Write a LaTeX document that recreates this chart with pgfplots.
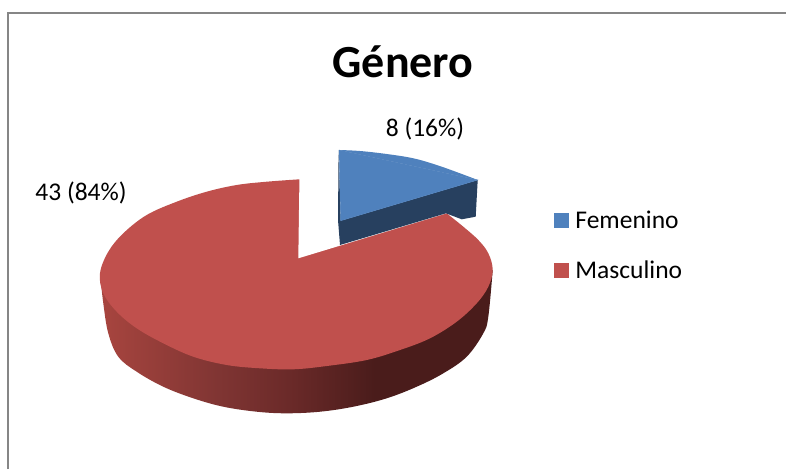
\documentclass[border=0pt]{standalone}
\usepackage{fontspec}
\setmainfont{Carlito}
\usepackage{pgfplots}
\pgfplotsset{compat=1.18}
\definecolor{pieblue}{HTML}{4F81BD}
\definecolor{pieblued}{HTML}{27405F}
\definecolor{piered}{HTML}{C0504D}
\definecolor{framegray}{HTML}{868686}
\definecolor{redA}{HTML}{A8453F}
\definecolor{redB}{HTML}{803533}
\definecolor{redC}{HTML}{6B2A29}
\definecolor{redD}{HTML}{4A1C1B}
\pgfdeclarehorizontalshading{redwall}{100bp}{
  color(0bp)=(redA); color(25bp)=(redA); color(40bp)=(redB); color(49bp)=(redC); color(60bp)=(redD); color(100bp)=(redD)}
\begin{document}
\begin{tikzpicture}
\begin{axis}[
  scale only axis, width=786pt, height=469pt,
  xmin=0, xmax=786, ymin=0, ymax=469, y dir=reverse,
  hide axis, clip=true,
  legend cell align=left,
  legend style={at={(axis cs:554,209)}, anchor=north west, draw=none, fill=none,
    font=\fontsize{25.5}{27}\selectfont, row sep=27pt, inner sep=0pt, outer sep=0pt,
    /tikz/every odd column/.append style={column sep=5pt}},
  legend image code/.code={\fill[#1] (0pt,-7pt) rectangle (14pt,7pt);},
]
% page extent
\addplot[draw=none, fill=white, forget plot] coordinates {(0,0)(786,0)(786,469)(0,469)} --cycle;
% frame
\addplot[draw=framegray, line width=2pt, forget plot] coordinates {(8,469)(8,12.5)(786,12.5)};
% red wall
\addplot[shading=redwall, draw=none, smooth, tension=0.6, forget plot] coordinates {(100,273.3)(103.3,303.3)(108.3,333.3)(118.3,356.7)(136.7,371.7)(163.3,386.7)(193.3,398.3)(223.3,406.7)(256.7,411.7)(286.7,413.3)(320,411.7)(353.3,406.7)(386.7,398.3)(416.7,386.7)(443.3,373.3)(466.7,356.7)(483.3,333.3)(488.3,316.7)(492.7,270)};
% red slice top (value 43): rim, then the gap is cut out
\addplot[fill=piered, draw=none, smooth, tension=0.6, forget plot] coordinates {(299.5,179.3)(266.7,181.7)(236.7,185)(206.7,191.7)(176.7,201.7)(146.7,215)(123.3,233.3)(108.3,251.7)(100,273.3)(103.3,293.3)(116.7,311.7)(136.7,328.3)(163.3,343.3)(193.3,356.7)(226.7,365)(260,368.3)(293.3,369.3)(326.7,366)(366.7,360)(400,350)(430,338.3)(456.7,321.7)(476.7,303.3)(488.3,286.7)(492.7,270)(488.3,253.3)(478.3,240)(463.3,226.7)(446.7,213.3)};
\addplot[fill=white, draw=none, forget plot] coordinates {(299.5,175)(298.3,258.3)(446.7,213.3)(450,170)} --cycle;
% blue slice side
\addplot[fill=pieblued, draw=none, forget plot] coordinates {(338.6,150)(340.7,220.7)(477.7,180)(475.7,216.7)(461.7,219.3)(446,213.3)(340,245)(338,220)} --cycle;
% blue slice top (value 8)
\addplot[fill=pieblue, draw=pieblue, line width=0.4pt, forget plot] coordinates {(339,150)(477.7,180)(340.7,220.7)} --cycle;
\addplot[fill=pieblue, draw=none, smooth, tension=0.6, forget plot] coordinates {(339,150)(360,151)(386.7,154)(413.3,158.3)(436.7,165)(460,173.3)(477.7,180)};
\addlegendimage{pieblue}
\addlegendentry{Femenino}
\addlegendimage{piered}
\addlegendentry{Masculino}
\node[font=\bfseries\fontsize{46}{48}\selectfont, inner sep=0pt] at (axis cs:403,62) {Género};
\node[font=\fontsize{25.5}{27}\selectfont, inner sep=0pt] at (axis cs:425,129) {8 (16\%)};
\node[font=\fontsize{25.5}{27}\selectfont, inner sep=0pt] at (axis cs:81,193) {43 (84\%)};
\end{axis}
\end{tikzpicture}
\end{document}
